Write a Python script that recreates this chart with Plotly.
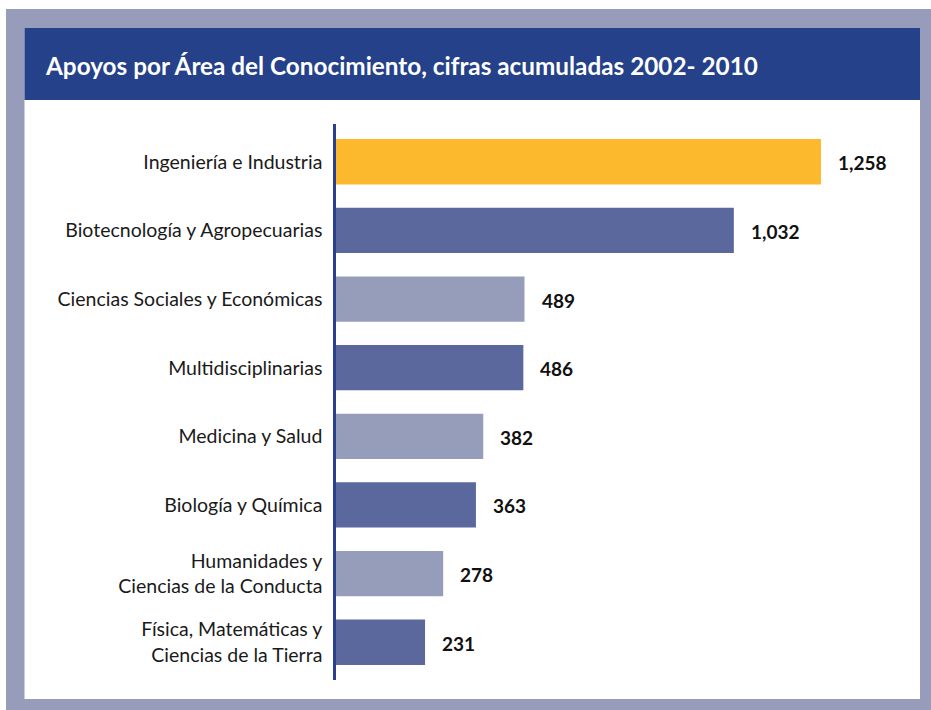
import plotly.graph_objects as go

categories = [
    "Ingeniería e Industria",
    "Biotecnología y Agropecuarias",
    "Ciencias Sociales y Económicas",
    "Multidisciplinarias",
    "Medicina y Salud",
    "Biología y Química",
    "Humanidades y<br>Ciencias de la Conducta",
    "Física, Matemáticas y<br>Ciencias de la Tierra",
]
values = [1258, 1032, 489, 486, 382, 363, 278, 231]
value_labels = ["1,258", "1,032", "489", "486", "382", "363", "278", "231"]
bar_colors = ["#FDB92D", "#5A689E", "#969DBB", "#5A689E",
              "#969DBB", "#5A689E", "#969DBB", "#5A689E"]
title_text = "Apoyos por Área del Conocimiento, cifras acumuladas 2002- 2010"

W, H = 931, 710
L, R, T, B = 336, 900, 124, 680  # plot area in pixels


def px(x):
    return (x - L) / (R - L)


def py(y):
    return (B - y) / (B - T)


FONT = "Lato, Open Sans, sans-serif"

fig = go.Figure()
fig.add_trace(go.Bar(
    x=values,
    y=categories,
    orientation="h",
    marker=dict(color=bar_colors, line=dict(width=0)),
    width=0.66,
    hoverinfo="x+y",
))

for c, v, lab in zip(categories, values, value_labels):
    fig.add_annotation(
        x=v, y=c, text="<b>" + lab + "</b>", showarrow=False,
        xanchor="left", xshift=15, yshift=-1,
        font=dict(family=FONT, size=19, color="#111111"),
    )

shapes = [
    dict(type="rect", xref="paper", yref="paper", layer="below",
         x0=px(6), x1=px(931), y0=py(9), y1=py(710),
         fillcolor="#969CB9", line=dict(width=0)),
    dict(type="rect", xref="paper", yref="paper", layer="below",
         x0=px(24.5), x1=px(920), y0=py(28), y1=py(699),
         fillcolor="#FFFFFF", line=dict(width=0)),
    dict(type="rect", xref="paper", yref="paper", layer="below",
         x0=px(24.5), x1=px(920), y0=py(28), y1=py(100),
         fillcolor="#24418A", line=dict(width=0)),
]

fig.add_annotation(
    xref="paper", yref="paper", x=px(43), y=py(65),
    xanchor="left", yanchor="middle", showarrow=False,
    text="<b>" + title_text + "</b>",
    font=dict(family=FONT, size=24.3, color="#FFFFFF"),
)

fig.update_layout(
    width=W, height=H,
    margin=dict(l=L, r=W - R, t=T, b=H - B, pad=0),
    paper_bgcolor="#FFFFFF",
    plot_bgcolor="rgba(0,0,0,0)",
    shapes=shapes,
    showlegend=False,
    bargap=0.34,
    font=dict(family=FONT, size=19, color="#1A1A1A"),
    xaxis=dict(range=[0, (R - L) / 0.3855], visible=False, showgrid=False,
               zeroline=False, fixedrange=True),
    yaxis=dict(autorange=False, range=[7.55, -0.55], showgrid=False,
               zeroline=False, showline=True, linecolor="#2A3F8E", linewidth=2.5,
               ticks="", ticklabelstandoff=7, fixedrange=True,
               tickfont=dict(family=FONT, size=19.5, color="#1A1A1A")),
)

fig.write_html(
    "out.html",
    config={"displayModeBar": False},
    post_script="document.body.style.margin='0';document.body.style.overflow='hidden';",
)
